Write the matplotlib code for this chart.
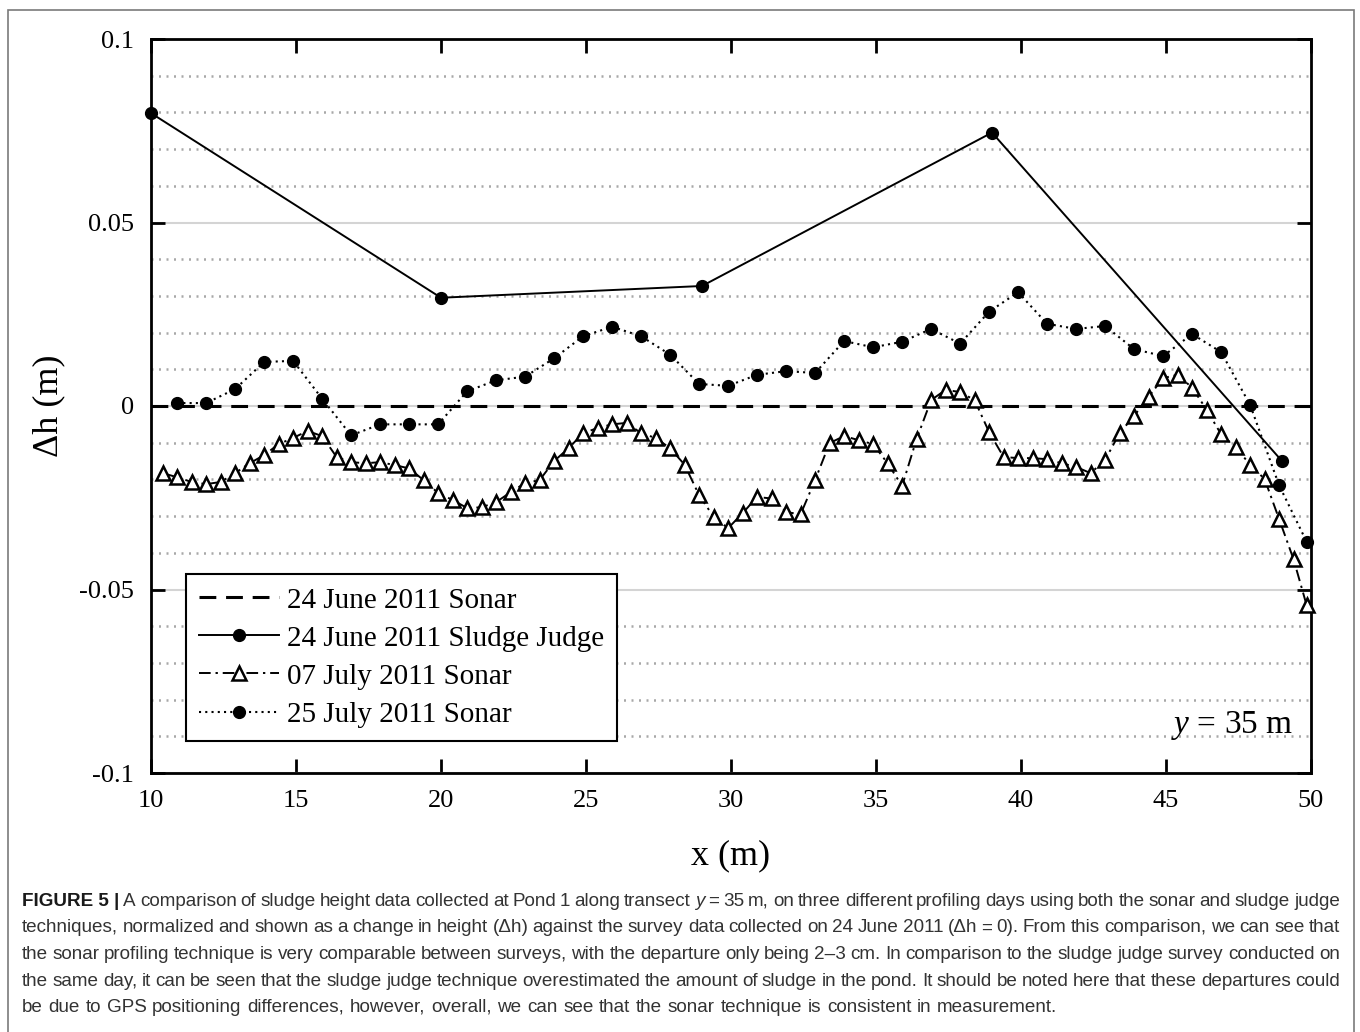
import matplotlib
matplotlib.use("Agg")
import matplotlib.pyplot as plt
from matplotlib.ticker import MultipleLocator, FixedLocator, FixedFormatter
from matplotlib.patches import Rectangle

plt.rcParams['font.family'] = ['Liberation Serif', 'DejaVu Serif']
plt.rcParams['mathtext.fontset'] = 'custom'
plt.rcParams['mathtext.rm'] = 'Liberation Serif'
plt.rcParams['mathtext.it'] = 'Liberation Serif:italic'
plt.rcParams['axes.unicode_minus'] = False

# 24 June 2011 sonar is the reference (dh = 0)
ref_x = [10, 50]
ref_y = [0.0, 0.0]

# 24 June 2011 sludge judge
judge_x = [10.0, 20.0, 29.0, 39.0, 49.0]
judge_y = [0.0798, 0.0295, 0.0327, 0.0745, -0.0150]

# 07 July 2011 sonar
july07_x = [10.4, 10.9, 11.4, 11.9, 12.4, 12.9, 13.4, 13.9, 14.4, 14.9,
            15.4, 15.9, 16.4, 16.9, 17.4, 17.9, 18.4, 18.9, 19.4, 19.9,
            20.4, 20.9, 21.4, 21.9, 22.4, 22.9, 23.4, 23.9, 24.4, 24.9,
            25.4, 25.9, 26.4, 26.9, 27.4, 27.9, 28.4, 28.9, 29.4, 29.9,
            30.4, 30.9, 31.4, 31.9, 32.4, 32.9, 33.4, 33.9, 34.4, 34.9,
            35.4, 35.9, 36.4, 36.9, 37.4, 37.9, 38.4, 38.9, 39.4, 39.9,
            40.4, 40.9, 41.4, 41.9, 42.4, 42.9, 43.4, 43.9, 44.4, 44.9,
            45.4, 45.9, 46.4, 46.9, 47.4, 47.9, 48.4, 48.9, 49.4, 49.85]
july07_y = [-0.0183, -0.0194, -0.0207, -0.0213, -0.0207, -0.0183, -0.0156, -0.0134, -0.0104, -0.0087,
            -0.0068, -0.0082, -0.0139, -0.0153, -0.0156, -0.0153, -0.0161, -0.0170, -0.0202, -0.0237,
            -0.0256, -0.0278, -0.0276, -0.0262, -0.0235, -0.0210, -0.0202, -0.0150, -0.0115, -0.0074,
            -0.0060, -0.0050, -0.0046, -0.0074, -0.0087, -0.0115, -0.0160, -0.0243, -0.0302, -0.0333,
            -0.0292, -0.0248, -0.0252, -0.0289, -0.0295, -0.0202, -0.0101, -0.0082, -0.0093, -0.0104,
            -0.0156, -0.0218, -0.0090, 0.0016, 0.0044, 0.0038, 0.0016, -0.0071, -0.0139, -0.0142,
            -0.0142, -0.0145, -0.0156, -0.0166, -0.0183, -0.0147, -0.0074, -0.0027, 0.0025, 0.0076,
            0.0085, 0.0050, -0.0010, -0.0077, -0.0112, -0.0160, -0.0199, -0.0308, -0.0418, -0.0543]

# 25 July 2011 sonar
july25_x = [10.9, 11.9, 12.9, 13.9, 14.9, 15.9, 16.9, 17.9, 18.9, 19.9,
            20.9, 21.9, 22.9, 23.9, 24.9, 25.9, 26.9, 27.9, 28.9, 29.9,
            30.9, 31.9, 32.9, 33.9, 34.9, 35.9, 36.9, 37.9, 38.9, 39.9,
            40.9, 41.9, 42.9, 43.9, 44.9, 45.9, 46.9, 47.9, 48.9, 49.85]
july25_y = [0.0008, 0.0008, 0.0046, 0.0120, 0.0123, 0.0020, -0.0080, -0.0050, -0.0050, -0.0050,
            0.0040, 0.0070, 0.0080, 0.0130, 0.0190, 0.0216, 0.0190, 0.0140, 0.0060, 0.0055,
            0.0085, 0.0095, 0.0090, 0.0177, 0.0160, 0.0175, 0.0210, 0.0170, 0.0257, 0.0310,
            0.0224, 0.0210, 0.0218, 0.0155, 0.0136, 0.0196, 0.0147, 0.0003, -0.0216, -0.0370]

xticks = [10, 15, 20, 25, 30, 35, 40, 45, 50]
yticks = [-0.1, -0.05, 0, 0.05, 0.1]
ytick_labels = ['-0.1', '-0.05', '0', '0.05', '0.1']

W, H = 1360, 1032
fig = plt.figure(figsize=(W / 100, H / 100), dpi=100)
ax = fig.add_axes([151 / W, 1 - 773 / H, (1311 - 151) / W, (773 - 39) / H])

ax.plot(ref_x, ref_y, color='black', lw=2.2, dashes=(5.5, 3.2),
        label='24 June 2011 Sonar', zorder=3)
ax.plot(judge_x, judge_y, color='black', lw=1.4, marker='o', ms=8.5,
        label='24 June 2011 Sludge Judge', zorder=4, clip_on=False)
ax.plot(july07_x, july07_y, color='black', lw=1.4, dashes=(6, 2.5, 1.2, 2.5),
        marker='^', ms=10, mfc='white', mec='black', mew=1.8,
        label='07 July 2011 Sonar', zorder=5, clip_on=False)
ax.plot(july25_x, july25_y, color='black', lw=1.5, ls=(0, (1, 2)),
        marker='o', ms=8.5, label='25 July 2011 Sonar', zorder=4, clip_on=False)

ax.set_xlim(10, 50)
ax.set_ylim(-0.1, 0.1)
ax.xaxis.set_major_locator(FixedLocator(xticks))
ax.yaxis.set_major_locator(FixedLocator(yticks))
ax.yaxis.set_major_formatter(FixedFormatter(ytick_labels))
ax.yaxis.set_minor_locator(MultipleLocator(0.01))

ax.grid(which='major', axis='y', color='#d4d4d4', lw=1.5, zorder=0)
ax.grid(which='minor', axis='y', color='#a8a8a8', lw=1.8, ls=(0, (0.8, 2.2)), zorder=0)
ax.set_axisbelow(True)

ax.tick_params(which='major', direction='in', top=True, right=True,
               length=10, width=2, labelsize=19, pad=12)
ax.tick_params(which='minor', length=0)
for s in ax.spines.values():
    s.set_linewidth(2)

ax.set_xlabel('x (m)', fontsize=26, labelpad=20)
ax.set_ylabel('Δh (m)', fontsize=26, labelpad=10)

ax.text(0.985, 0.055, '$y$ = 35 m', transform=ax.transAxes, fontsize=24,
        ha='right', va='baseline')

leg = ax.legend(loc='upper left', bbox_to_anchor=(186 / W, 1 - 574 / H),
                bbox_transform=fig.transFigure, borderaxespad=0,
                fontsize=21, numpoints=1, handlelength=2.75, handletextpad=0.25,
                labelspacing=0.4, borderpad=0.45, fancybox=False, framealpha=1)
leg.get_frame().set_edgecolor('black')
leg.get_frame().set_linewidth(1.5)

# outer frame around figure and caption
fig.add_artist(Rectangle((8 / W, -0.02), (1354 - 8) / W, 1 - 10 / H + 0.02,
                         transform=fig.transFigure, fill=False,
                         edgecolor='#7a7a7a', lw=1.2))

# caption, justified word by word
cap_lines = [
    [('FIGURE 5 |', 'bold', 'normal'), ('A comparison of sludge height data collected at Pond 1 along transect', 'normal', 'normal'),
     ('y', 'normal', 'italic'), ('= 35 m, on three different profiling days using both the sonar and sludge judge', 'normal', 'normal')],
    [('techniques, normalized and shown as a change in height (Δh) against the survey data collected on 24 June 2011 (Δh = 0). From this comparison, we can see that', 'normal', 'normal')],
    [('the sonar profiling technique is very comparable between surveys, with the departure only being 2–3 cm. In comparison to the sludge judge survey conducted on', 'normal', 'normal')],
    [('the same day, it can be seen that the sludge judge technique overestimated the amount of sludge in the pond. It should be noted here that these departures could', 'normal', 'normal')],
    [('be due to GPS positioning differences, however, overall, we can see that the sonar technique is consistent in measurement.', 'normal', 'normal')],
]
baselines = [906, 932.5, 959, 985.5, 1012]
left, right = 22, 1340
cap_font = ['Liberation Sans', 'DejaVu Sans']
cap_size = 13.6

renderer = fig.canvas.get_renderer()
for i, segs in enumerate(cap_lines):
    words = []
    for text, weight, style in segs:
        if weight == 'bold':
            words.append((text, weight, style))
        else:
            for w in text.split(' '):
                words.append((w, weight, style))
    arts = []
    for w, weight, style in words:
        t = fig.text(0, 1 - baselines[i] / H, w, fontsize=cap_size, family=cap_font,
                     weight=weight, style=style, color='#333333' if weight == 'normal' else '#1a1a1a',
                     va='baseline', ha='left')
        arts.append(t)
    widths = [a.get_window_extent(renderer).width for a in arts]
    if i < len(cap_lines) - 1:
        gap = (right - left - sum(widths)) / (len(arts) - 1)
    else:
        gap = cap_size * 100 / 72 * 0.3
    x = left
    for a, wd in zip(arts, widths):
        a.set_x(x / W)
        x += wd + gap

fig.savefig('out.png', dpi=100)
